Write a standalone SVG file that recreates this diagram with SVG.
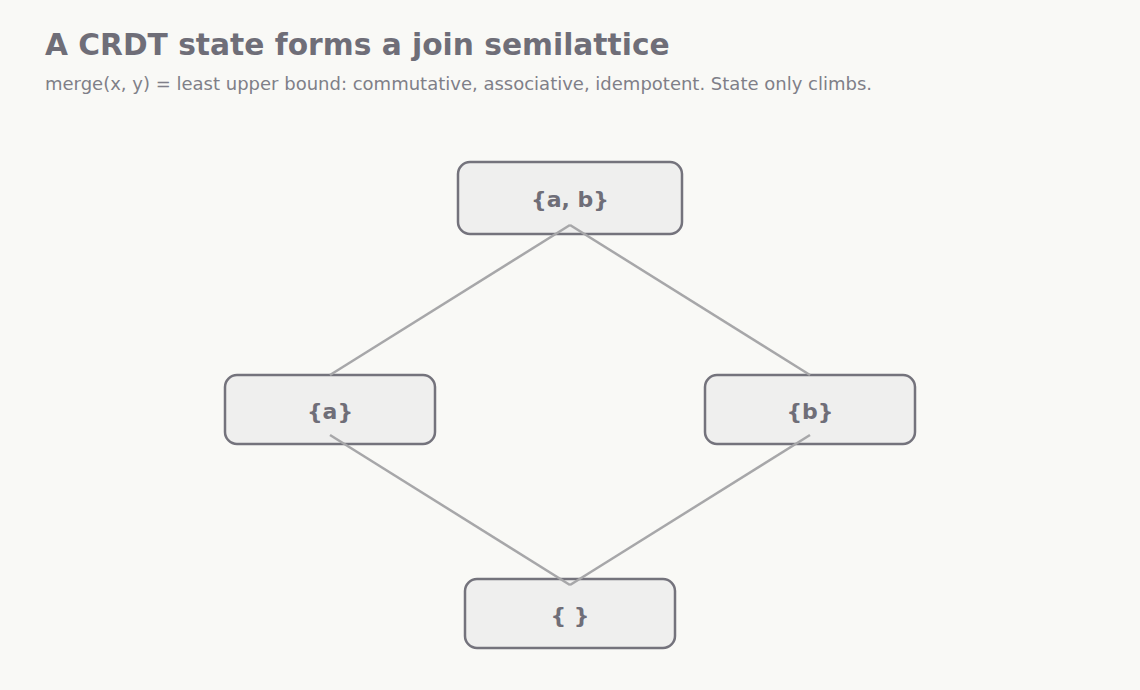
<svg xmlns="http://www.w3.org/2000/svg" width="1140" height="690" viewBox="0 0 1140 690">
<style>
.title{font-family:"DejaVu Sans",sans-serif;font-weight:bold;font-size:29.7px;fill:#6f6e78}
.sub{font-family:"DejaVu Sans",sans-serif;font-size:18px;fill:#7f7f88}
.box{fill:#efefee;stroke:#74737c;stroke-width:2.5}
.lbl{font-family:"DejaVu Sans",sans-serif;font-weight:bold;font-size:22px;fill:#6f6e78;text-anchor:middle}
.edge{stroke:#a7a7a9;stroke-width:2.5;fill:none}
</style>
<rect width="1140" height="690" fill="#f9f9f6"/>
<text class="title" x="45" y="55">A CRDT state forms a join semilattice</text>
<text class="sub" x="45" y="90">merge(x, y) = least upper bound: commutative, associative, idempotent. State only climbs.</text>
<g id="node-ab"><rect class="box" x="458" y="162" width="224" height="72" rx="12"/><text class="lbl" x="570" y="207">{a, b}</text></g>
<g id="node-a"><rect class="box" x="225" y="375" width="210" height="69" rx="12"/><text class="lbl" x="330" y="419">{a}</text></g>
<g id="node-b"><rect class="box" x="705" y="375" width="210" height="69" rx="12"/><text class="lbl" x="810" y="419">{b}</text></g>
<g id="node-empty"><rect class="box" x="465" y="579" width="210" height="69" rx="12"/><text class="lbl" x="570" y="623">{ }</text></g>
<g id="connectors">
<line class="edge" x1="570" y1="225" x2="330" y2="375"/>
<line class="edge" x1="570" y1="225" x2="810" y2="375"/>
<line class="edge" x1="330" y1="435" x2="570" y2="585"/>
<line class="edge" x1="810" y1="435" x2="570" y2="585"/>
</g>
</svg>
